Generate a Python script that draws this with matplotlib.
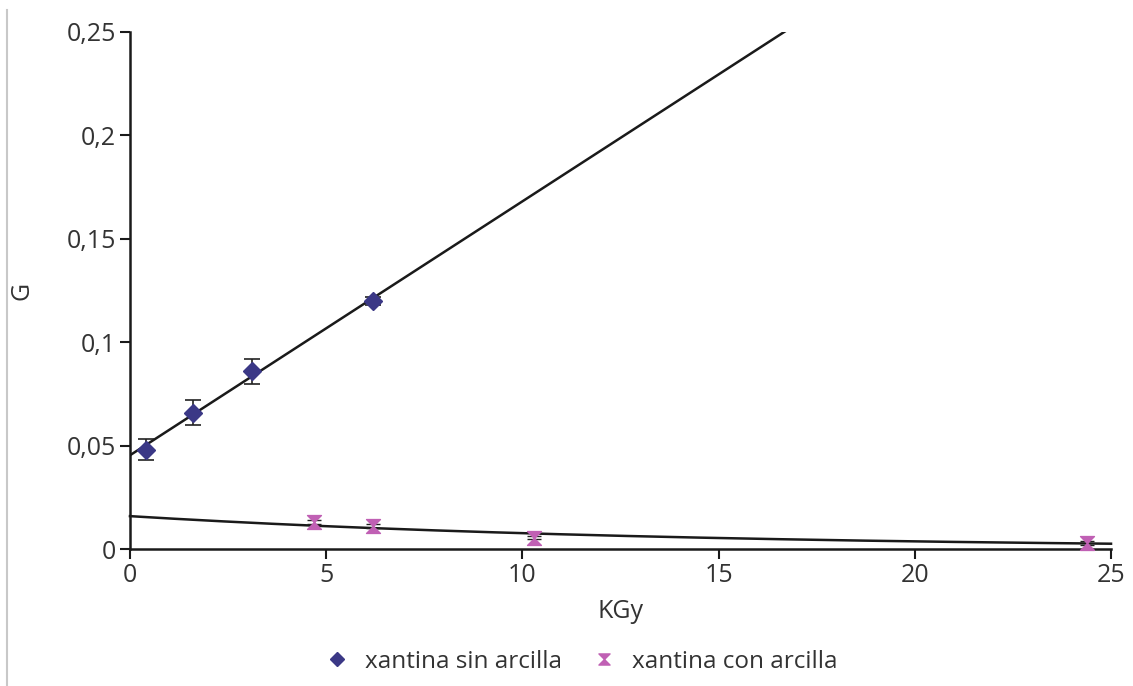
import numpy as np
import matplotlib
matplotlib.use("Agg")
import matplotlib.pyplot as plt
from matplotlib.path import Path
from matplotlib.lines import Line2D
from matplotlib.ticker import FuncFormatter

plt.rcParams['font.family'] = ['Open Sans', 'DejaVu Sans']

# Data
dose_sin = [0.4, 1.6, 3.1, 6.2]
g_sin = [0.048, 0.066, 0.086, 0.120]
err_sin = [0.005, 0.006, 0.006, 0.002]

dose_con = [4.7, 6.2, 10.3, 24.4]
g_con = [0.0130, 0.0110, 0.0055, 0.0029]
err_con = [0.0010, 0.0010, 0.0008, 0.0008]

label_sin = "xantina sin arcilla"
label_con = "xantina con arcilla"

x_ticks = [0, 5, 10, 15, 20, 25]
y_ticks = [0, 0.05, 0.1, 0.15, 0.2, 0.25]

col_sin = "#3b3886"
col_con = "#c060b4"

hourglass = Path([(-1, 1), (1, 1), (0, 0), (1, -1), (-1, -1), (0, 0), (-1, 1)],
                 [Path.MOVETO, Path.LINETO, Path.LINETO, Path.LINETO, Path.LINETO, Path.LINETO, Path.CLOSEPOLY])

fig = plt.figure(figsize=(11.33, 6.86), dpi=100)
ax = fig.add_axes([0.1147, 0.1997, 0.8659, 0.7537])

# trend lines (Excel-like fits)
p_lin = np.polyfit(dose_sin, g_sin, 1)
xs = np.linspace(0, 25, 200)
ax.plot(xs, np.polyval(p_lin, xs), color="#1a1a1a", lw=1.8, zorder=2, clip_on=True)
p_exp = np.polyfit(dose_con, np.log(g_con), 1)
ax.plot(xs, np.exp(np.polyval(p_exp, xs)), color="#1a1a1a", lw=1.8, zorder=2, clip_on=False)

ax.errorbar(dose_sin, g_sin, yerr=err_sin, fmt='none', ecolor="#222222", elinewidth=1.2,
            capsize=6, capthick=1.2, zorder=3)
ax.plot(dose_sin, g_sin, linestyle='none', marker='D', markersize=9, color=col_sin, zorder=4)
ax.errorbar(dose_con, g_con, yerr=err_con, fmt='none', ecolor="#222222", elinewidth=1.0,
            capsize=5, capthick=1.0, zorder=3)
ax.plot(dose_con, g_con, linestyle='none', marker=hourglass, markersize=10, color=col_con,
        zorder=4, clip_on=False)

ax.set_xlim(0, 25)
ax.set_ylim(0, 0.25)
ax.set_xticks(x_ticks)
ax.set_yticks(y_ticks)
fmt = FuncFormatter(lambda v, p: ("%g" % v).replace('.', ','))
ax.yaxis.set_major_formatter(fmt)
ax.xaxis.set_major_formatter(fmt)

for s in ['top', 'right']:
    ax.spines[s].set_visible(False)
for s in ['left', 'bottom']:
    ax.spines[s].set_linewidth(1.8)
    ax.spines[s].set_color("#1a1a1a")
ax.tick_params(direction='out', length=7, width=1.5, colors="#1a1a1a", labelsize=18,
               labelcolor="#333333", pad=3)

ax.set_xlabel("KGy", fontsize=18, color="#333333", labelpad=8)
ax.set_ylabel("G", fontsize=18, color="#333333")
ax.yaxis.set_label_coords(-0.097, 0.5)

handles = [Line2D([], [], linestyle='none', marker='D', markersize=7, color=col_sin),
           Line2D([], [], linestyle='none', marker=hourglass, markersize=8, color=col_con)]
fig.legend(handles, [label_sin, label_con], loc='center', bbox_to_anchor=(0.513, 0.035),
           ncol=2, frameon=False, fontsize=17.5, labelcolor="#333333", handletextpad=0.65,
           columnspacing=1.2, handlelength=1.0)

# gray border at left
fig.add_artist(Line2D([0.0062, 0.0062], [0.0, 0.985], color="#c8c8c8", lw=1.5,
                      transform=fig.transFigure))

fig.savefig("out.png", dpi=100)
